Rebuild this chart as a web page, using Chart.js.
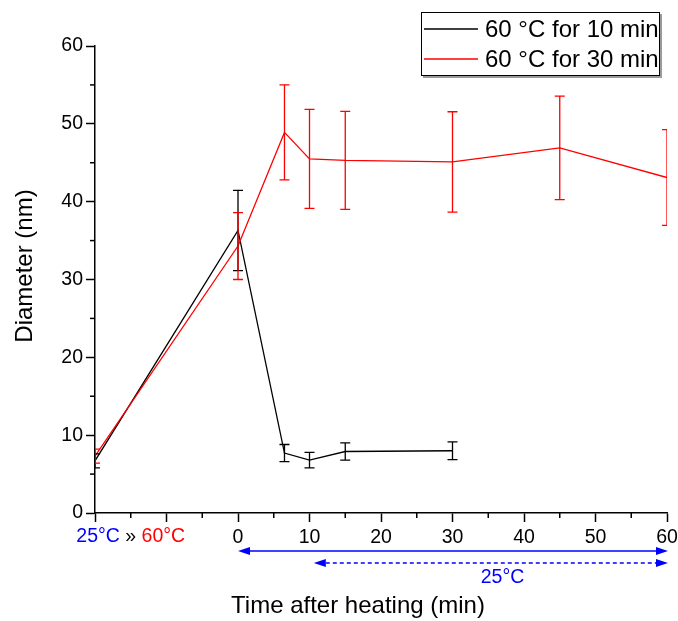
<!DOCTYPE html>
<html>
<head>
<meta charset="utf-8">
<script src="https://cdn.jsdelivr.net/npm/chart.js@4.4.1/dist/chart.umd.min.js"></script>
<style>
body { margin: 0; background: #ffffff; }
</style>
</head>
<body>
<canvas id="myChart" width="678" height="621"></canvas>
<script>
// values
var series_names = ['60 °C for 10 min', '60 °C for 30 min']
var line_color = ['#000000', '#ff0000']

var time_10 = [-20, 0, 6.5, 10, 15, 30]
var diameter_10 = [6.7, 36.3, 7.7, 6.8, 7.9, 8.0]
var error_10 = [0.9, 5.15, 1.1, 1.0, 1.1, 1.15]

var time_30 = [-20, 0, 6.5, 10, 15, 30, 45, 60]
var diameter_30 = [7.3, 34.3, 48.9, 45.5, 45.3, 45.1, 46.9, 43.1]
var error_30 = [0.9, 4.3, 6.1, 6.35, 6.3, 6.45, 6.65, 6.15]

var heating_label = ['25°C', ' » ', '60°C']
var heating_label_at = -15
var hold_solid = [0, 60]
var hold_dashed = [10.6, 60]
var hold_label = '25°C'
var hold_label_at = 37

var font_family = '"Liberation Sans", Arial, sans-serif'
var blue = '#0000ff'

function make_points(xs, ys) {
    var pts = []
    for (i = 0; i < xs.length; i++) {
        pts.push({x: xs[i], y: ys[i]})
    }
    return pts
}

const error_bars = {
    id: 'error_bars',
    afterDatasetsDraw: (chart) => {
        const ctx = chart.ctx
        const area = chart.chartArea
        const y_scale = chart.scales.y
        ctx.save()
        ctx.beginPath()
        ctx.rect(area.left, area.top, area.right - area.left, area.bottom - area.top)
        ctx.clip()
        chart.data.datasets.forEach((ds, n) => {
            const meta = chart.getDatasetMeta(n)
            ctx.strokeStyle = ds.borderColor
            ctx.lineWidth = 1.3
            meta.data.forEach((pt, i) => {
                const v = ds.data[i].y
                const e = ds.errors[i]
                const top = y_scale.getPixelForValue(v + e)
                const bot = y_scale.getPixelForValue(v - e)
                ctx.beginPath()
                ctx.moveTo(pt.x, top); ctx.lineTo(pt.x, bot)
                ctx.moveTo(pt.x - 5, top); ctx.lineTo(pt.x + 5, top)
                ctx.moveTo(pt.x - 5, bot); ctx.lineTo(pt.x + 5, bot)
                ctx.stroke()
            })
        })
        ctx.restore()
    }
}

function draw_arrow(ctx, x1, x2, y, dashed) {
    var head = 12
    ctx.save()
    ctx.strokeStyle = blue
    ctx.fillStyle = blue
    ctx.lineWidth = 1.5
    if (dashed) ctx.setLineDash([4, 3])
    ctx.beginPath()
    ctx.moveTo(x1 + head, y)
    ctx.lineTo(x2 - head, y)
    ctx.stroke()
    ctx.beginPath()
    ctx.moveTo(x1, y); ctx.lineTo(x1 + head, y - 4); ctx.lineTo(x1 + head, y + 4)
    ctx.closePath()
    ctx.fill()
    ctx.beginPath()
    ctx.moveTo(x2, y); ctx.lineTo(x2 - head, y - 4); ctx.lineTo(x2 - head, y + 4)
    ctx.closePath()
    ctx.fill()
    ctx.restore()
}

const extras = {
    id: 'extras',
    afterDraw: (chart) => {
        const ctx = chart.ctx
        const xs = chart.scales.x
        const ys = chart.scales.y
        const area = chart.chartArea
        ctx.save()

        // minor ticks
        ctx.strokeStyle = '#000'
        ctx.lineWidth = 1.5
        xs.ticks.forEach(t => {
            if (t.value % 10 !== 0) {
                var px = xs.getPixelForValue(t.value)
                ctx.beginPath(); ctx.moveTo(px, area.bottom); ctx.lineTo(px, area.bottom + 5); ctx.stroke()
            }
        })
        ys.ticks.forEach(t => {
            if (t.value % 10 !== 0) {
                var py = ys.getPixelForValue(t.value)
                ctx.beginPath(); ctx.moveTo(area.left, py); ctx.lineTo(area.left - 5, py); ctx.stroke()
            }
        })

        // 25°C » 60°C under the heating part
        ctx.font = '19.5px ' + font_family
        ctx.textBaseline = 'middle'
        ctx.textAlign = 'left'
        var total = 0
        heating_label.forEach(s => { total += ctx.measureText(s).width })
        var sx = xs.getPixelForValue(heating_label_at) - total / 2
        var label_colors = [blue, '#000', '#ff0000']
        heating_label.forEach((s, i) => {
            ctx.fillStyle = label_colors[i]
            ctx.fillText(s, sx, 537)
            sx += ctx.measureText(s).width
        })

        // arrows for the time kept at 25°C
        draw_arrow(ctx, xs.getPixelForValue(hold_solid[0]), xs.getPixelForValue(hold_solid[1]) + 1, 551, false)
        draw_arrow(ctx, xs.getPixelForValue(hold_dashed[0]), xs.getPixelForValue(hold_dashed[1]) + 1, 563, true)
        ctx.fillStyle = blue
        ctx.textAlign = 'center'
        ctx.fillText(hold_label, xs.getPixelForValue(hold_label_at), 578)

        // axis titles
        ctx.fillStyle = '#000'
        ctx.font = '24px ' + font_family
        ctx.fillText('Time after heating (min)', 358, 606)
        ctx.save()
        ctx.translate(25, 266)
        ctx.rotate(-Math.PI / 2)
        ctx.fillText('Diameter (nm)', 0, 0)
        ctx.restore()

        // legend box
        ctx.fillStyle = '#9a9a9a'
        ctx.fillRect(423, 14, 239, 64)
        ctx.fillStyle = '#ffffff'
        ctx.fillRect(421, 12, 238, 64)
        ctx.strokeStyle = '#000'
        ctx.lineWidth = 1
        ctx.strokeRect(421.5, 12.5, 238, 63)
        ctx.textAlign = 'left'
        var rows = [29, 59]
        series_names.forEach((name, i) => {
            ctx.strokeStyle = line_color[i]
            ctx.lineWidth = 1.3
            ctx.beginPath(); ctx.moveTo(424, rows[i]); ctx.lineTo(478, rows[i]); ctx.stroke()
            ctx.fillStyle = '#000'
            ctx.fillText(name, 485, rows[i] + 1)
        })
        ctx.restore()
    }
}

function create_chart() {
    var data_set = [
        {
            label: series_names[0],
            data: make_points(time_10, diameter_10),
            errors: error_10,
            borderColor: line_color[0],
            backgroundColor: line_color[0],
            borderWidth: 1.3,
            pointRadius: 0,
            fill: false,
            order: 1
        },
        {
            label: series_names[1],
            data: make_points(time_30, diameter_30),
            errors: error_30,
            borderColor: line_color[1],
            backgroundColor: line_color[1],
            borderWidth: 1.3,
            pointRadius: 0,
            fill: false,
            order: 0
        }
    ]
    var tick_font = {family: font_family, size: 19.5}
    var option = {
        responsive: false,
        animation: false,
        layout: {padding: {left: 0, right: 11, top: 46, bottom: 0}},
        plugins: {legend: {display: false}, tooltip: {enabled: false}},
        scales: {
            x: {
                type: 'linear',
                min: -20,
                max: 60,
                afterFit: (scale) => {
                    scale.height = 108
                    scale.paddingLeft = 0
                    scale.paddingRight = 0
                },
                ticks: {
                    stepSize: 5,
                    maxRotation: 0,
                    autoSkip: false,
                    color: '#000',
                    font: tick_font,
                    padding: 4,
                    callback: (v) => (v >= 0 && v % 10 === 0) ? v : ''
                },
                grid: {
                    drawOnChartArea: false,
                    drawTicks: true,
                    tickLength: 9,
                    tickWidth: 1.5,
                    tickColor: (c) => c.tick.value % 10 === 0 ? '#000' : 'rgba(0,0,0,0)'
                },
                border: {display: true, color: '#000', width: 1.5}
            },
            y: {
                min: 0,
                max: 60,
                afterFit: (scale) => {
                    scale.width = 95
                    scale.paddingTop = 0
                    scale.paddingBottom = 0
                },
                ticks: {
                    stepSize: 5,
                    color: '#000',
                    font: tick_font,
                    padding: 3,
                    callback: (v) => v % 10 === 0 ? v : ''
                },
                grid: {
                    drawOnChartArea: false,
                    drawTicks: true,
                    tickLength: 9,
                    tickWidth: 1.5,
                    tickColor: (c) => c.tick.value % 10 === 0 ? '#000' : 'rgba(0,0,0,0)'
                },
                border: {display: true, color: '#000', width: 1.5}
            }
        }
    }
    var the_chart_canvas = document.getElementById('myChart').getContext('2d')
    var myChart = new Chart(the_chart_canvas, {
        type: 'line',
        data: {datasets: data_set},
        options: option,
        plugins: [error_bars, extras]
    })
}

create_chart()
</script>
</body>
</html>
